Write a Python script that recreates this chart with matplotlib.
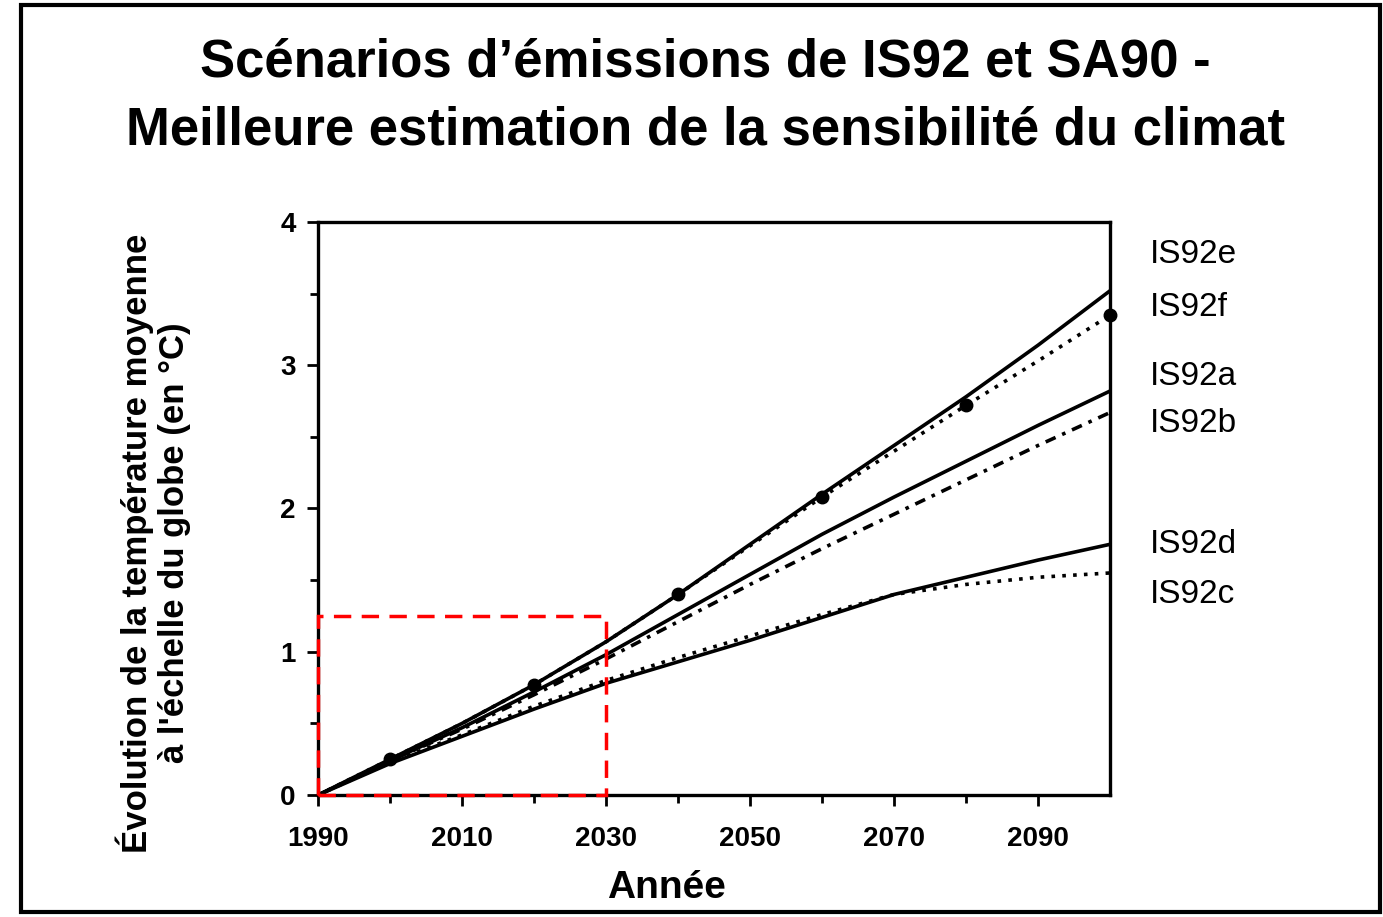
import matplotlib.pyplot as plt
from matplotlib.patches import Rectangle

plt.rcParams['font.family'] = ['Liberation Sans', 'DejaVu Sans']

years = [1990, 2000, 2010, 2020, 2030, 2040, 2050, 2060, 2070, 2080, 2090, 2100]

# lectures approximatives sur la figure
is92e = [0.0, 0.25, 0.50, 0.77, 1.07, 1.40, 1.75, 2.10, 2.44, 2.78, 3.14, 3.52]
is92f = [0.0, 0.25, 0.50, 0.77, 1.07, 1.40, 1.74, 2.08, 2.40, 2.72, 3.03, 3.35]
is92a = [0.0, 0.24, 0.47, 0.72, 0.98, 1.26, 1.54, 1.82, 2.08, 2.33, 2.58, 2.82]
is92b = [0.0, 0.24, 0.46, 0.70, 0.95, 1.21, 1.47, 1.72, 1.96, 2.20, 2.44, 2.67]
is92d = [0.0, 0.22, 0.41, 0.60, 0.78, 0.93, 1.08, 1.24, 1.40, 1.52, 1.64, 1.75]
is92c = [0.0, 0.23, 0.42, 0.62, 0.80, 0.96, 1.11, 1.26, 1.40, 1.47, 1.52, 1.55]
dot_years = [2000, 2020, 2040, 2060, 2080, 2100]
dot_vals = [0.25, 0.77, 1.40, 2.08, 2.72, 3.35]

labels = ['IS92e', 'IS92f', 'IS92a', 'IS92b', 'IS92d', 'IS92c']
label_y = [3.77, 3.40, 2.92, 2.59, 1.75, 1.40]

fig = plt.figure(figsize=(13.83, 9.17), dpi=100)
ax = fig.add_axes([0.23, 0.133, 0.5727, 0.625])

ax.plot(years, is92e, color='black', lw=2.6)
ax.plot(years, is92f, color='black', lw=2.6, ls=(0, (1, 2)))
ax.plot(dot_years, dot_vals, 'o', color='black', ms=9, clip_on=False, zorder=4)
ax.plot(years, is92a, color='black', lw=2.6)
ax.plot(years, is92b, color='black', lw=2.6, ls=(0, (3, 2, 1, 2)))
ax.plot(years, is92d, color='black', lw=2.6)
ax.plot(years, is92c, color='black', lw=2.6, ls=(0, (1, 2)))

# cadre rouge sur 1990-2030
ax.add_patch(Rectangle((1990, 0), 40, 1.25, fill=False, ec='red', lw=2.5,
                       ls=(0, (5, 3)), clip_on=False, zorder=5))

ax.set_xlim(1990, 2100)
ax.set_ylim(0, 4)
ax.set_xticks([1990, 2010, 2030, 2050, 2070, 2090])
ax.set_xticks(range(2000, 2100, 20), minor=True)
ax.set_yticks([0, 1, 2, 3, 4])
ax.set_yticks([0.5, 1.5, 2.5, 3.5], minor=True)
ax.tick_params(axis='both', which='major', length=8, width=2, labelsize=20)
ax.tick_params(axis='x', which='major', pad=14)
ax.tick_params(axis='y', which='major', pad=8)
ax.tick_params(axis='both', which='minor', length=6, width=2)
for lab in ax.get_xticklabels() + ax.get_yticklabels():
    lab.set_fontweight('bold')
for s in ax.spines.values():
    s.set_linewidth(2.4)

ax.set_xlabel('Année', fontsize=28, fontweight='bold')
ax.xaxis.set_label_coords(0.44, -0.13)
ax.set_ylabel("Évolution de la température moyenne\nà l'échelle du globe (en °C)",
              fontsize=25, fontweight='bold', linespacing=1.15)
ax.yaxis.set_label_coords(-0.16, 0.44)

for name, y in zip(labels, label_y):
    ax.text(2105.5, y, name, fontsize=24, va='center', ha='left', clip_on=False)

fig.text(0.51, 0.932, "Scénarios d’émissions de IS92 et SA90 -", ha='center', va='center',
         fontsize=38, fontweight='bold')
fig.text(0.51, 0.858, "Meilleure estimation de la sensibilité du climat", ha='center',
         va='center', fontsize=38, fontweight='bold')

fig.add_artist(Rectangle((0.015, 0.005), 0.983, 0.99, transform=fig.transFigure,
                         fill=False, ec='black', lw=3))

fig.savefig('out.png', dpi=100)
